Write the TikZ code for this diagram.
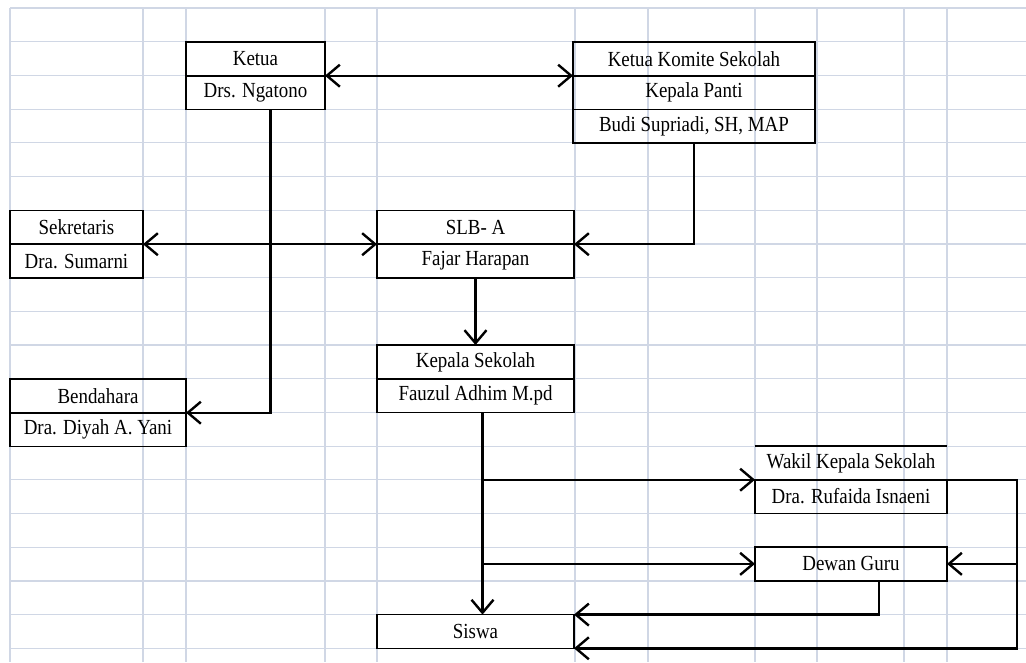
\documentclass[tikz,border=0pt]{standalone}
\usepackage{fontspec}
\setmainfont{Liberation Serif}[FakeStretch=0.88]
\usetikzlibrary{positioning,arrows.meta}
\definecolor{gridline}{RGB}{208,215,229}
\tikzset{
  cell/.style={draw, line width=1.6pt, inner sep=0pt, outer sep=0pt, minimum height=33.7pt, font=\fontsize{21.5}{22}\selectfont},
  e/.style={line width=2.4pt, >={Straight Barb[length=13pt,width=22pt]}}
}

\begin{document}
\begin{tikzpicture}[x=1pt, y=-1pt]
  \useasboundingbox (0,0) rectangle (1026,662);
  % sheet grid
  \foreach \r in {0,...,19}
    \draw[gridline, line width=1.2pt] (10, 8+\r*33.7) -- (1026, 8+\r*33.7);
  \foreach \c in {10,143,186,325,377,575,648,755,817,904,947}
    \draw[gridline, line width=1.2pt] (\c, 8) -- (\c, 662);

  \node[cell, minimum width=139pt, anchor=north west] (ketua) at (186, 42) {Ketua};
  \node[cell, minimum width=139pt, below=0pt of ketua] (ngatono) {Drs. Ngatono};

  \node[cell, minimum width=242pt, anchor=north west] (komite) at (573, 42) {Ketua Komite Sekolah};
  \node[cell, minimum width=242pt, below=0pt of komite] (panti) {Kepala Panti};
  \node[cell, minimum width=242pt, below=0pt of panti] (budi) {Budi Supriadi, SH, MAP};

  \node[cell, minimum width=133pt, anchor=north west] (sekretaris) at (10, 210.5) {Sekretaris};
  \node[cell, minimum width=133pt, below=0pt of sekretaris] (sumarni) {Dra. Sumarni};

  \node[cell, minimum width=197pt, anchor=north west] (slb) at (377, 210.5) {SLB- A};
  \node[cell, minimum width=197pt, below=0pt of slb] (fajar) {Fajar Harapan};

  \node[cell, minimum width=197pt, anchor=north west] (kepsek) at (377, 345) {Kepala Sekolah};
  \node[cell, minimum width=197pt, below=0pt of kepsek] (fauzul) {Fauzul Adhim M.pd};

  \node[cell, minimum width=176pt, anchor=north west] (bendahara) at (10, 379) {Bendahara};
  \node[cell, minimum width=176pt, below=0pt of bendahara] (diyah) {Dra. Diyah A. Yani};

  %\node[cell] (wakil) ... only the top rule is drawn
  \node[cell, draw=none, minimum width=192pt, anchor=north west] (wakil) at (755, 446) {Wakil Kepala Sekolah};
  \draw[line width=1.6pt] (wakil.north west) -- (wakil.north east);
  \node[cell, minimum width=192pt, below=0pt of wakil] (rufaida) {Dra. Rufaida Isnaeni};

  \node[cell, minimum width=192pt, anchor=north west] (dewan) at (755, 547) {Dewan Guru};
  \node[cell, minimum width=197pt, anchor=north west] (siswa) at (377, 614.6) {Siswa};

  \draw[e, <->] (ketua.south east) -- (komite.south west);
  \draw[e, ->] ([xshift=15pt]ngatono.south) |- (bendahara.south east);
  \draw[e, <->] (sekretaris.south east) -- (slb.south west);
  \draw[e, ->] (budi.south) |- (slb.south east);
  \draw[e, ->] (fajar.south) -- (kepsek.north);

  \coordinate (spine) at ([xshift=7pt]fauzul.south);
  \draw[e, ->] (spine) -- (spine |- siswa.north);
  \draw[e, ->] (spine |- rufaida.north west) -- (rufaida.north west);
  \draw[e, ->] (spine |- dewan.west) -- (dewan.west);
  \draw[e, ->] ([xshift=28pt]dewan.south) |- (siswa.north east);

  \coordinate (loop) at ([xshift=70pt]rufaida.north east);
  \draw[e, ->] (rufaida.north east) -- (loop) |- (siswa.south east);
  \draw[e, ->] (loop |- dewan.east) -- (dewan.east);
\end{tikzpicture}
\end{document}
